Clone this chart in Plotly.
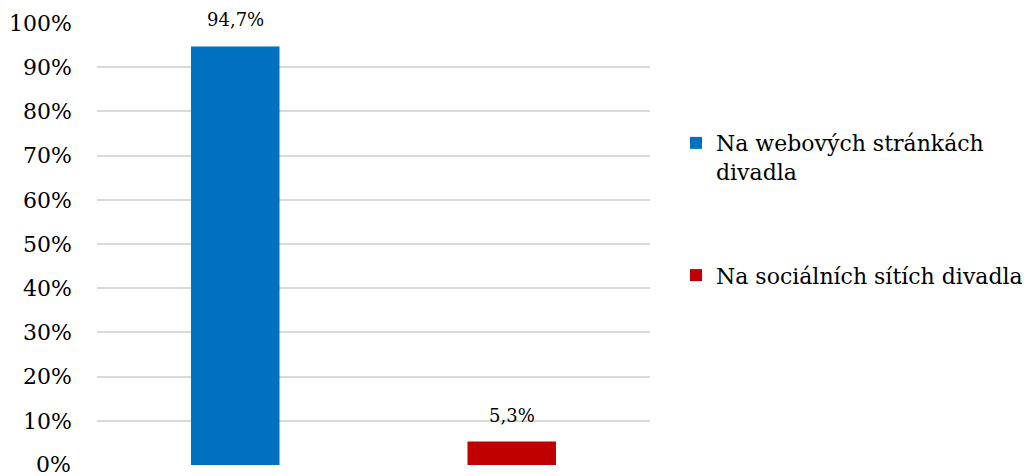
import plotly.graph_objects as go

categories = ["Na webových stránkách<br>divadla", "Na sociálních sítích divadla"]
values = [0.947, 0.053]
labels = ["94,7%", "5,3%"]
colors = ["#0070C0", "#C00000"]
y_ticks = [i / 10 for i in range(11)]
y_tick_text = [f"{i * 10}%" for i in range(11)]

FONT = "'DejaVu Serif', serif"

fig = go.Figure()
for i, (cat, val, col) in enumerate(zip(categories, values, colors)):
    fig.add_trace(go.Bar(
        x=[cat], y=[val], name=cat, marker=dict(color=col, line=dict(width=0)),
        legendgroup=f"g{i}", hoverinfo="skip",
    ))
    fig.add_annotation(x=cat, y=val, text=labels[i], showarrow=False,
                       yanchor="bottom", yshift=14,
                       font=dict(family=FONT, size=18, color="#000000"))

# the lowest tick label would be dropped by plotly as it touches the page edge; draw it as an annotation
fig.add_annotation(xref="paper", x=0, xanchor="right", xshift=-24, y=y_ticks[0], yref="y",
                   yshift=1, text=y_tick_text[0], showarrow=False,
                   font=dict(family=FONT, size=22, color="#000000"))

fig.update_layout(
    width=1027, height=476,
    margin=dict(l=97, r=377, t=23, b=11, autoexpand=False),
    paper_bgcolor="white", plot_bgcolor="white",
    barmode="relative", bargap=0.68,
    font=dict(family=FONT, size=22, color="#000000"),
    legend=dict(x=1.047, y=0.579, xanchor="left", yanchor="middle", valign="top",
                font=dict(family=FONT, size=22, color="#000000"),
                tracegroupgap=72, itemwidth=30, bgcolor="rgba(0,0,0,0)"),
    showlegend=True,
)
fig.update_xaxes(showticklabels=False, showgrid=False, zeroline=False, showline=False, ticks="")
fig.update_yaxes(range=[0, 1], tickvals=y_ticks, ticktext=y_tick_text,
                 showgrid=True, gridcolor="#D9D9D9", gridwidth=1.5,
                 zeroline=False, automargin=False,
                 showline=False, ticks="", ticklabelstandoff=24,
                 tickfont=dict(family=FONT, size=22, color="#000000"))

fig.write_html("out.html")
